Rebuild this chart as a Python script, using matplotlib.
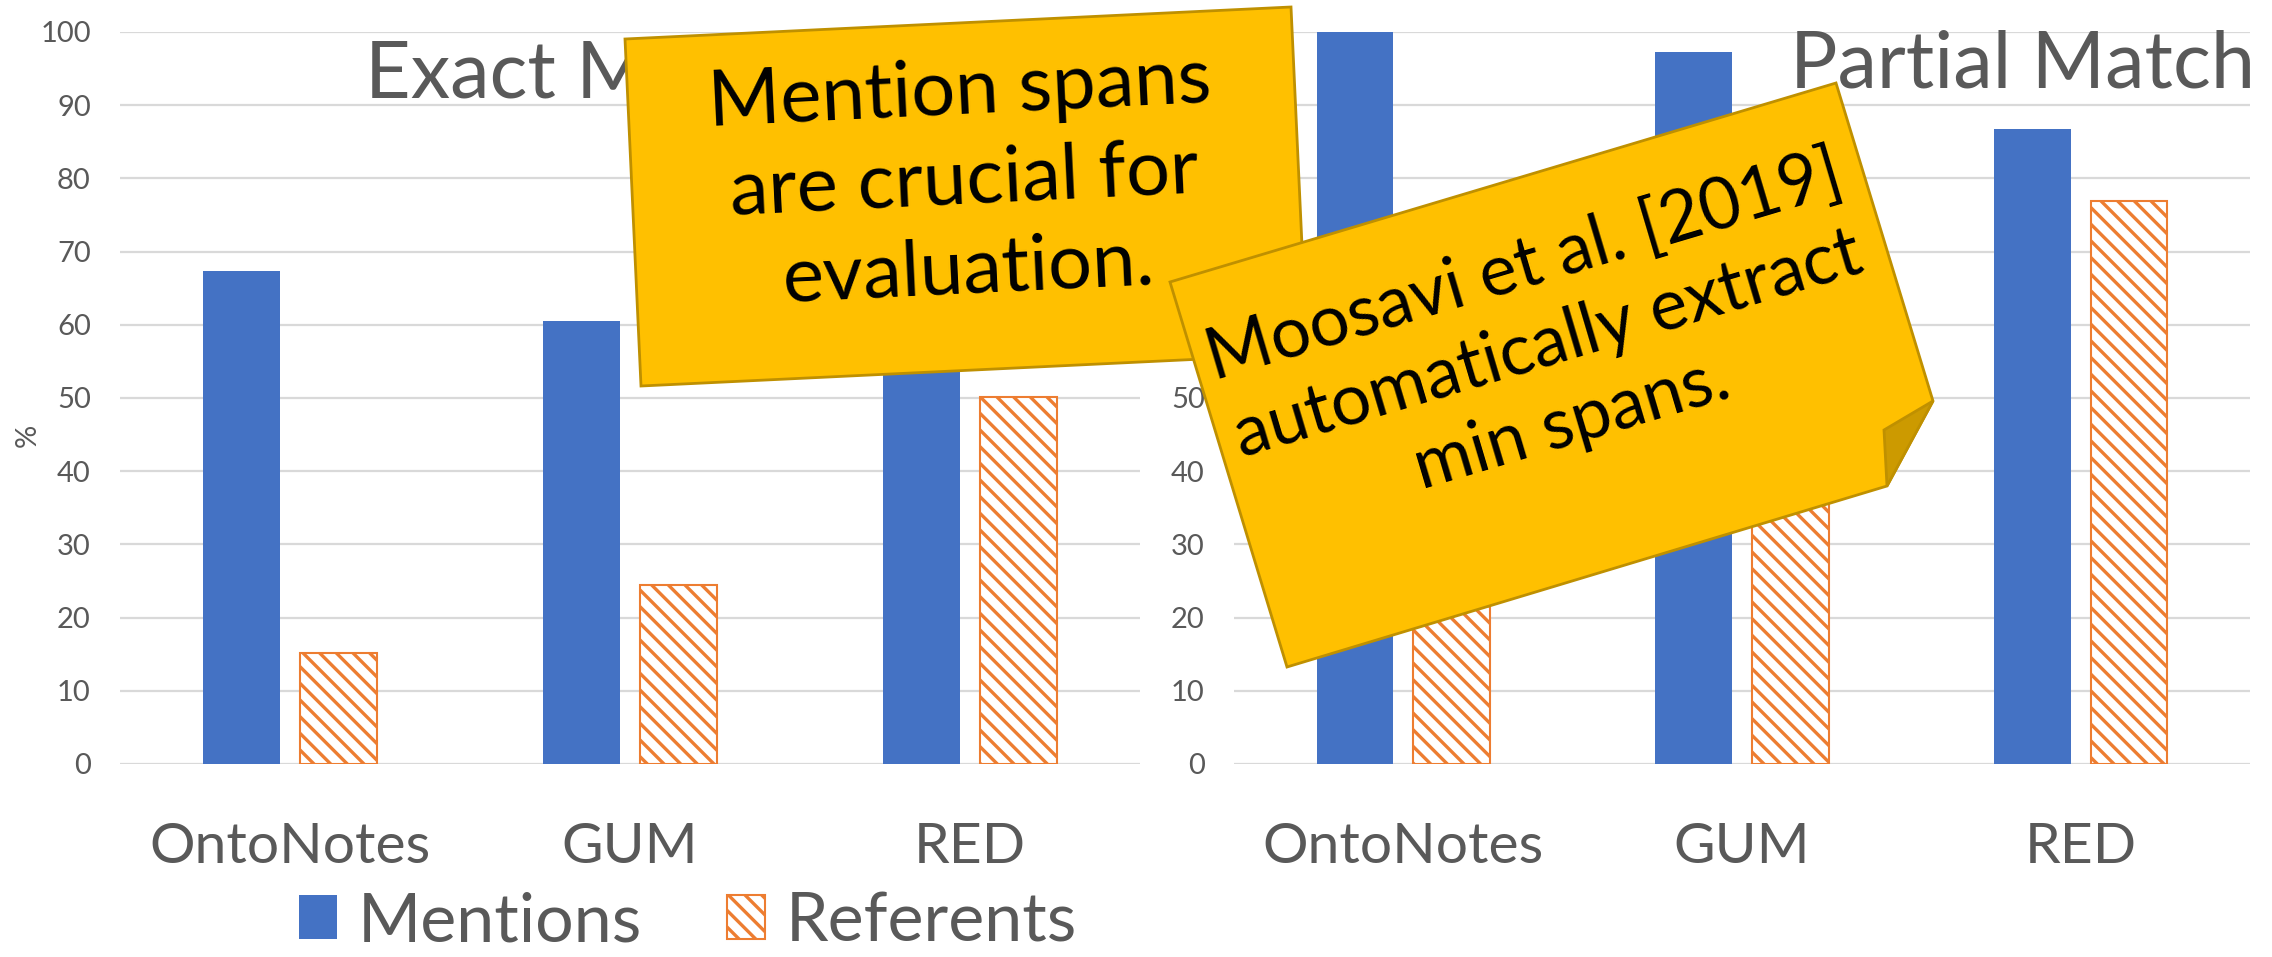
import numpy as np
import matplotlib.pyplot as plt
from matplotlib.patches import Polygon

plt.rcParams['font.family'] = ['Lato', 'DejaVu Sans']
plt.rcParams['hatch.linewidth'] = 2.4

categories = ['OntoNotes', 'GUM', 'RED']
exact_mentions = [67.4, 60.5, 62.0]
exact_referents = [15.1, 24.4, 50.1]
partial_mentions = [100.0, 97.2, 86.7]
partial_referents = [42.0, 58.0, 76.9]
y_ticks = [0, 10, 20, 30, 40, 50, 60, 70, 80, 90, 100]

blue = '#4472C4'
orange = '#ED7D31'
grey = '#595959'
W, H = 2272, 957


def px(x, y):
    # pixel position (from top left) -> figure fraction
    return (x / W, 1 - y / H)


fig = plt.figure(figsize=(W / 100, H / 100), dpi=100)
ax1 = fig.add_axes([120 / W, 1 - 764 / H, 1020 / W, 732 / H])
ax2 = fig.add_axes([1234 / W, 1 - 764 / H, 1016 / W, 732 / H])

x = np.arange(len(categories))
bw = 0.226
off = 0.143
handles = None
for ax, m, r in [(ax1, exact_mentions, exact_referents), (ax2, partial_mentions, partial_referents)]:
    b1 = ax.bar(x - off, m, bw, color=blue, label='Mentions', zorder=3)
    b2 = ax.bar(x + off, r, bw, facecolor='white', edgecolor=orange, hatch='\\\\',
                linewidth=1.5, label='Referents', zorder=3)
    if handles is None:
        handles = [b1, b2]
    ax.set_xlim(-0.5, 2.5)
    ax.set_ylim(0, 100)
    ax.set_yticks(y_ticks)
    ax.set_xticks(x)
    ax.set_xticklabels(categories, fontsize=41, color=grey)
    ax.tick_params(axis='y', labelsize=21, colors=grey, length=0, pad=21)
    ax.tick_params(axis='x', length=0, pad=42)
    for s in ax.spines.values():
        s.set_visible(False)
    ax.grid(axis='y', color='#D9D9D9', linewidth=1.6, zorder=0)
    ax.set_axisbelow(True)

fig.text(*px(28, 435), '%', rotation=90, fontsize=21, color=grey, ha='center', va='center')
fig.text(*px(365, 97), 'Exact Match', fontsize=57, color=grey, ha='left', va='baseline')
fig.text(*px(1790, 88), 'Partial Match', fontsize=57, color=grey, ha='left', va='baseline')

fig.legend(handles, ['Mentions', 'Referents'], loc='center', bbox_to_anchor=px(688, 922),
           ncol=2, frameon=False, fontsize=49, labelcolor=grey, handlelength=0.56,
           handleheight=0.6, handletextpad=0.3, columnspacing=1.25, borderpad=0)

# callout 1
c1 = [(625, 39), (1291, 7), (1307, 354), (641, 386)]
fig.add_artist(Polygon([px(*p) for p in c1], closed=True, transform=fig.transFigure,
                       facecolor='#FFC000', edgecolor='#BF9000', linewidth=2, zorder=10))
fig.text(*px(964, 182), 'Mention spans\nare crucial for\nevaluation.', fontsize=56,
         color='black', ha='center', va='center', multialignment='center',
         rotation=2.75, rotation_mode='anchor', linespacing=1.32, zorder=11)

# callout 2 with folded corner
c2 = [(1170, 282), (1836, 83), (1933, 401), (1887, 486), (1287, 667)]
fig.add_artist(Polygon([px(*p) for p in c2], closed=True, transform=fig.transFigure,
                       facecolor='#FFC000', edgecolor='#BF9000', linewidth=2, zorder=12))
fold = [(1933, 401), (1884, 430), (1887, 486)]
fig.add_artist(Polygon([px(*p) for p in fold], closed=True, transform=fig.transFigure,
                       facecolor='#CC9A00', edgecolor='#BF9000', linewidth=2, zorder=12))
fig.text(*px(1548, 345), 'Moosavi et al. [2019]\nautomatically extract\nmin spans.', fontsize=51,
         color='black', ha='center', va='center', multialignment='center',
         rotation=16.6, rotation_mode='anchor', linespacing=1.32, zorder=13)

fig.savefig('out.png', dpi=100)
